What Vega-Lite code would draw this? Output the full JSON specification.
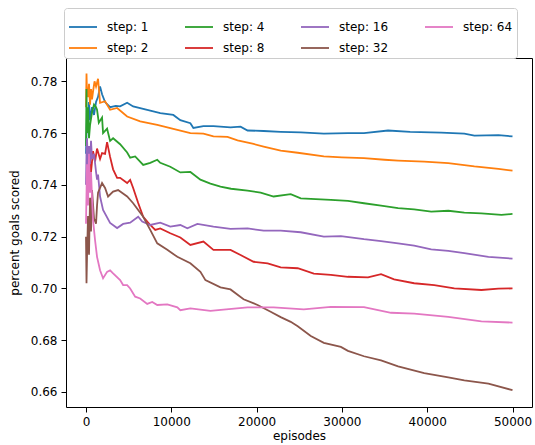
{
 "$schema": "https://vega.github.io/schema/vega-lite/v6.json",
 "width": 466,
 "height": 349,
 "autosize": {"type": "none"},
 "padding": {"left": 66, "top": 58, "right": 3, "bottom": 38},
 "background": "white",
 "config": {
  "font": "DejaVu Sans",
  "view": {"stroke": "black", "strokeWidth": 1},
  "axis": {
   "domain": false, "grid": false, "tickColor": "black", "tickWidth": 1, "tickSize": 5,
   "labelColor": "black", "labelFontSize": 12, "labelPadding": 4, "labelFont": "DejaVu Sans",
   "titleColor": "black", "titleFontSize": 12, "titleFontWeight": "normal", "titleFont": "DejaVu Sans"
  },
  "legend": {"labelFont": "DejaVu Sans"}
 },
 "datasets": {
  "d": [
   {"s":"step: 1","x":0,"y":0.752},{"s":"step: 1","x":118,"y":0.768},{"s":"step: 1","x":235,"y":0.760},{"s":"step: 1","x":353,"y":0.772},{"s":"step: 1","x":471,"y":0.765},{"s":"step: 1","x":706,"y":0.770},{"s":"step: 1","x":941,"y":0.767},{"s":"step: 1","x":1176,"y":0.772},{"s":"step: 1","x":1412,"y":0.774},{"s":"step: 1","x":1647,"y":0.778},{"s":"step: 1","x":1882,"y":0.775},{"s":"step: 1","x":2235,"y":0.772},{"s":"step: 1","x":2824,"y":0.770},{"s":"step: 1","x":3500,"y":0.7705},{"s":"step: 1","x":4000,"y":0.7703},{"s":"step: 1","x":4824,"y":0.7717},{"s":"step: 1","x":5529,"y":0.7703},{"s":"step: 1","x":7176,"y":0.769},{"s":"step: 1","x":8706,"y":0.7677},{"s":"step: 1","x":10235,"y":0.767},{"s":"step: 1","x":11059,"y":0.765},{"s":"step: 1","x":12235,"y":0.7638},{"s":"step: 1","x":12588,"y":0.762},{"s":"step: 1","x":13765,"y":0.7627},{"s":"step: 1","x":14941,"y":0.7627},{"s":"step: 1","x":16941,"y":0.7622},{"s":"step: 1","x":18118,"y":0.7625},{"s":"step: 1","x":18941,"y":0.761},{"s":"step: 1","x":20824,"y":0.7608},{"s":"step: 1","x":22824,"y":0.7605},{"s":"step: 1","x":25176,"y":0.7603},{"s":"step: 1","x":27882,"y":0.7598},{"s":"step: 1","x":30706,"y":0.7600},{"s":"step: 1","x":32588,"y":0.7600},{"s":"step: 1","x":35412,"y":0.7610},{"s":"step: 1","x":38000,"y":0.7605},{"s":"step: 1","x":41647,"y":0.7602},{"s":"step: 1","x":44353,"y":0.7598},{"s":"step: 1","x":45529,"y":0.7590},{"s":"step: 1","x":48353,"y":0.7592},{"s":"step: 1","x":50000,"y":0.7587},

   {"s":"step: 2","x":0,"y":0.770},{"s":"step: 2","x":59,"y":0.783},{"s":"step: 2","x":118,"y":0.775},{"s":"step: 2","x":235,"y":0.774},{"s":"step: 2","x":353,"y":0.779},{"s":"step: 2","x":471,"y":0.771},{"s":"step: 2","x":588,"y":0.777},{"s":"step: 2","x":706,"y":0.773},{"s":"step: 2","x":824,"y":0.776},{"s":"step: 2","x":1000,"y":0.780},{"s":"step: 2","x":1176,"y":0.778},{"s":"step: 2","x":1412,"y":0.781},{"s":"step: 2","x":1647,"y":0.7717},{"s":"step: 2","x":2235,"y":0.7723},{"s":"step: 2","x":2824,"y":0.769},{"s":"step: 2","x":3647,"y":0.7697},{"s":"step: 2","x":4824,"y":0.7664},{"s":"step: 2","x":6353,"y":0.7645},{"s":"step: 2","x":8353,"y":0.7632},{"s":"step: 2","x":9882,"y":0.7619},{"s":"step: 2","x":12235,"y":0.7600},{"s":"step: 2","x":13765,"y":0.7598},{"s":"step: 2","x":14941,"y":0.7587},{"s":"step: 2","x":16588,"y":0.7585},{"s":"step: 2","x":17765,"y":0.7572},{"s":"step: 2","x":19647,"y":0.7558},{"s":"step: 2","x":20824,"y":0.7548},{"s":"step: 2","x":22824,"y":0.7532},{"s":"step: 2","x":24824,"y":0.7524},{"s":"step: 2","x":27882,"y":0.7510},{"s":"step: 2","x":30000,"y":0.7506},{"s":"step: 2","x":32588,"y":0.7503},{"s":"step: 2","x":35000,"y":0.7497},{"s":"step: 2","x":36588,"y":0.7494},{"s":"step: 2","x":39647,"y":0.7490},{"s":"step: 2","x":42471,"y":0.7484},{"s":"step: 2","x":45529,"y":0.7471},{"s":"step: 2","x":48353,"y":0.7462},{"s":"step: 2","x":50000,"y":0.7455},

   {"s":"step: 4","x":0,"y":0.755},{"s":"step: 4","x":59,"y":0.777},{"s":"step: 4","x":118,"y":0.760},{"s":"step: 4","x":235,"y":0.770},{"s":"step: 4","x":353,"y":0.758},{"s":"step: 4","x":471,"y":0.763},{"s":"step: 4","x":706,"y":0.768},{"s":"step: 4","x":941,"y":0.771},{"s":"step: 4","x":1176,"y":0.770},{"s":"step: 4","x":1294,"y":0.769},{"s":"step: 4","x":1500,"y":0.764},{"s":"step: 4","x":1882,"y":0.766},{"s":"step: 4","x":2000,"y":0.760},{"s":"step: 4","x":2471,"y":0.7617},{"s":"step: 4","x":2824,"y":0.757},{"s":"step: 4","x":3176,"y":0.758},{"s":"step: 4","x":4000,"y":0.7557},{"s":"step: 4","x":4824,"y":0.7525},{"s":"step: 4","x":5176,"y":0.7505},{"s":"step: 4","x":5765,"y":0.751},{"s":"step: 4","x":6706,"y":0.7477},{"s":"step: 4","x":7529,"y":0.7485},{"s":"step: 4","x":8353,"y":0.7497},{"s":"step: 4","x":8706,"y":0.7485},{"s":"step: 4","x":9882,"y":0.7470},{"s":"step: 4","x":11059,"y":0.7448},{"s":"step: 4","x":12235,"y":0.7450},{"s":"step: 4","x":13412,"y":0.7420},{"s":"step: 4","x":14588,"y":0.7405},{"s":"step: 4","x":15765,"y":0.7393},{"s":"step: 4","x":17000,"y":0.7385},{"s":"step: 4","x":18941,"y":0.7378},{"s":"step: 4","x":20471,"y":0.7370},{"s":"step: 4","x":22000,"y":0.7355},{"s":"step: 4","x":24000,"y":0.7364},{"s":"step: 4","x":25176,"y":0.7348},{"s":"step: 4","x":28706,"y":0.7342},{"s":"step: 4","x":30706,"y":0.7338},{"s":"step: 4","x":32588,"y":0.7329},{"s":"step: 4","x":34588,"y":0.7320},{"s":"step: 4","x":36588,"y":0.7310},{"s":"step: 4","x":38471,"y":0.7305},{"s":"step: 4","x":40471,"y":0.7297},{"s":"step: 4","x":42471,"y":0.7300},{"s":"step: 4","x":44353,"y":0.7293},{"s":"step: 4","x":46353,"y":0.7290},{"s":"step: 4","x":48706,"y":0.7284},{"s":"step: 4","x":50000,"y":0.7288},

   {"s":"step: 8","x":118,"y":0.735},{"s":"step: 8","x":235,"y":0.745},{"s":"step: 8","x":353,"y":0.740},{"s":"step: 8","x":471,"y":0.7495},{"s":"step: 8","x":588,"y":0.745},{"s":"step: 8","x":824,"y":0.753},{"s":"step: 8","x":1059,"y":0.749},{"s":"step: 8","x":1294,"y":0.754},{"s":"step: 8","x":1647,"y":0.750},{"s":"step: 8","x":1882,"y":0.7523},{"s":"step: 8","x":2235,"y":0.752},{"s":"step: 8","x":2471,"y":0.7565},{"s":"step: 8","x":2824,"y":0.7508},{"s":"step: 8","x":3176,"y":0.746},{"s":"step: 8","x":3647,"y":0.7427},{"s":"step: 8","x":4000,"y":0.7427},{"s":"step: 8","x":4824,"y":0.7407},{"s":"step: 8","x":5176,"y":0.7419},{"s":"step: 8","x":5529,"y":0.7388},{"s":"step: 8","x":6118,"y":0.7330},{"s":"step: 8","x":6706,"y":0.7277},{"s":"step: 8","x":7529,"y":0.7245},{"s":"step: 8","x":8118,"y":0.7226},{"s":"step: 8","x":8706,"y":0.7232},{"s":"step: 8","x":9882,"y":0.7213},{"s":"step: 8","x":11059,"y":0.7197},{"s":"step: 8","x":12235,"y":0.7168},{"s":"step: 8","x":13765,"y":0.7181},{"s":"step: 8","x":14941,"y":0.7149},{"s":"step: 8","x":16941,"y":0.7149},{"s":"step: 8","x":18118,"y":0.7129},{"s":"step: 8","x":19647,"y":0.7103},{"s":"step: 8","x":21294,"y":0.7097},{"s":"step: 8","x":22824,"y":0.7081},{"s":"step: 8","x":24824,"y":0.7078},{"s":"step: 8","x":26706,"y":0.7057},{"s":"step: 8","x":28706,"y":0.7052},{"s":"step: 8","x":30706,"y":0.7045},{"s":"step: 8","x":33059,"y":0.7043},{"s":"step: 8","x":34588,"y":0.7055},{"s":"step: 8","x":36118,"y":0.7035},{"s":"step: 8","x":38471,"y":0.7020},{"s":"step: 8","x":40824,"y":0.7013},{"s":"step: 8","x":43176,"y":0.7000},{"s":"step: 8","x":46353,"y":0.6994},{"s":"step: 8","x":48353,"y":0.6999},{"s":"step: 8","x":50000,"y":0.7000},

   {"s":"step: 16","x":0,"y":0.740},{"s":"step: 16","x":59,"y":0.752},{"s":"step: 16","x":118,"y":0.758},{"s":"step: 16","x":235,"y":0.746},{"s":"step: 16","x":353,"y":0.755},{"s":"step: 16","x":471,"y":0.748},{"s":"step: 16","x":588,"y":0.757},{"s":"step: 16","x":706,"y":0.750},{"s":"step: 16","x":941,"y":0.752},{"s":"step: 16","x":1176,"y":0.745},{"s":"step: 16","x":1294,"y":0.742},{"s":"step: 16","x":1412,"y":0.744},{"s":"step: 16","x":1647,"y":0.7355},{"s":"step: 16","x":2000,"y":0.7303},{"s":"step: 16","x":2824,"y":0.7253},{"s":"step: 16","x":3647,"y":0.7233},{"s":"step: 16","x":4353,"y":0.7249},{"s":"step: 16","x":5176,"y":0.7254},{"s":"step: 16","x":6118,"y":0.7277},{"s":"step: 16","x":6588,"y":0.7258},{"s":"step: 16","x":7529,"y":0.7245},{"s":"step: 16","x":8706,"y":0.7254},{"s":"step: 16","x":9882,"y":0.7239},{"s":"step: 16","x":11059,"y":0.7245},{"s":"step: 16","x":11882,"y":0.7232},{"s":"step: 16","x":13059,"y":0.7249},{"s":"step: 16","x":14941,"y":0.7239},{"s":"step: 16","x":16941,"y":0.7230},{"s":"step: 16","x":18941,"y":0.7232},{"s":"step: 16","x":20824,"y":0.7223},{"s":"step: 16","x":22824,"y":0.7223},{"s":"step: 16","x":25176,"y":0.7217},{"s":"step: 16","x":27882,"y":0.7200},{"s":"step: 16","x":29882,"y":0.7202},{"s":"step: 16","x":32588,"y":0.7190},{"s":"step: 16","x":34588,"y":0.7183},{"s":"step: 16","x":36588,"y":0.7174},{"s":"step: 16","x":38471,"y":0.7165},{"s":"step: 16","x":40471,"y":0.7151},{"s":"step: 16","x":42471,"y":0.7145},{"s":"step: 16","x":44353,"y":0.7136},{"s":"step: 16","x":47176,"y":0.7122},{"s":"step: 16","x":50000,"y":0.7115},

   {"s":"step: 32","x":0,"y":0.720},{"s":"step: 32","x":59,"y":0.702},{"s":"step: 32","x":118,"y":0.712},{"s":"step: 32","x":235,"y":0.728},{"s":"step: 32","x":353,"y":0.713},{"s":"step: 32","x":471,"y":0.735},{"s":"step: 32","x":588,"y":0.722},{"s":"step: 32","x":706,"y":0.738},{"s":"step: 32","x":941,"y":0.727},{"s":"step: 32","x":1176,"y":0.725},{"s":"step: 32","x":1294,"y":0.732},{"s":"step: 32","x":1412,"y":0.737},{"s":"step: 32","x":1882,"y":0.7407},{"s":"step: 32","x":2235,"y":0.7388},{"s":"step: 32","x":2588,"y":0.7355},{"s":"step: 32","x":3176,"y":0.7374},{"s":"step: 32","x":3765,"y":0.7380},{"s":"step: 32","x":4824,"y":0.7355},{"s":"step: 32","x":5529,"y":0.7329},{"s":"step: 32","x":6118,"y":0.7303},{"s":"step: 32","x":6706,"y":0.7277},{"s":"step: 32","x":7529,"y":0.7226},{"s":"step: 32","x":8353,"y":0.7174},{"s":"step: 32","x":9529,"y":0.7149},{"s":"step: 32","x":10706,"y":0.7122},{"s":"step: 32","x":12235,"y":0.7097},{"s":"step: 32","x":13412,"y":0.7064},{"s":"step: 32","x":14000,"y":0.7032},{"s":"step: 32","x":15765,"y":0.7004},{"s":"step: 32","x":16941,"y":0.6996},{"s":"step: 32","x":18471,"y":0.6958},{"s":"step: 32","x":20118,"y":0.6936},{"s":"step: 32","x":21647,"y":0.6910},{"s":"step: 32","x":22824,"y":0.6889},{"s":"step: 32","x":24000,"y":0.6871},{"s":"step: 32","x":24824,"y":0.6854},{"s":"step: 32","x":26353,"y":0.6816},{"s":"step: 32","x":27882,"y":0.6790},{"s":"step: 32","x":29882,"y":0.6774},{"s":"step: 32","x":30706,"y":0.6759},{"s":"step: 32","x":32588,"y":0.6738},{"s":"step: 32","x":34588,"y":0.6722},{"s":"step: 32","x":36588,"y":0.6699},{"s":"step: 32","x":39647,"y":0.6673},{"s":"step: 32","x":42471,"y":0.6656},{"s":"step: 32","x":44353,"y":0.6645},{"s":"step: 32","x":47176,"y":0.6632},{"s":"step: 32","x":50000,"y":0.6607},

   {"s":"step: 64","x":0,"y":0.725},{"s":"step: 64","x":118,"y":0.748},{"s":"step: 64","x":235,"y":0.732},{"s":"step: 64","x":353,"y":0.752},{"s":"step: 64","x":471,"y":0.737},{"s":"step: 64","x":588,"y":0.745},{"s":"step: 64","x":706,"y":0.735},{"s":"step: 64","x":824,"y":0.7264},{"s":"step: 64","x":1059,"y":0.7187},{"s":"step: 64","x":1294,"y":0.7122},{"s":"step: 64","x":1647,"y":0.7070},{"s":"step: 64","x":2000,"y":0.7039},{"s":"step: 64","x":2471,"y":0.7064},{"s":"step: 64","x":2824,"y":0.7070},{"s":"step: 64","x":3176,"y":0.7058},{"s":"step: 64","x":4000,"y":0.7032},{"s":"step: 64","x":4353,"y":0.7013},{"s":"step: 64","x":4824,"y":0.7013},{"s":"step: 64","x":5176,"y":0.7000},{"s":"step: 64","x":5765,"y":0.6968},{"s":"step: 64","x":6353,"y":0.6961},{"s":"step: 64","x":7176,"y":0.6940},{"s":"step: 64","x":7765,"y":0.6948},{"s":"step: 64","x":8353,"y":0.6936},{"s":"step: 64","x":9529,"y":0.6938},{"s":"step: 64","x":10706,"y":0.6927},{"s":"step: 64","x":11059,"y":0.6916},{"s":"step: 64","x":12235,"y":0.6923},{"s":"step: 64","x":14588,"y":0.6913},{"s":"step: 64","x":16118,"y":0.6918},{"s":"step: 64","x":18941,"y":0.6927},{"s":"step: 64","x":22000,"y":0.6927},{"s":"step: 64","x":25529,"y":0.6919},{"s":"step: 64","x":28706,"y":0.6929},{"s":"step: 64","x":32588,"y":0.6928},{"s":"step: 64","x":35765,"y":0.6906},{"s":"step: 64","x":38471,"y":0.6903},{"s":"step: 64","x":42471,"y":0.6890},{"s":"step: 64","x":46353,"y":0.6873},{"s":"step: 64","x":50000,"y":0.6868}
  ]
 },
 "data": {"name": "d"},
 "mark": {"type": "line", "strokeWidth": 1.8, "clip": true},
 "encoding": {
  "x": {
   "field": "x", "type": "quantitative",
   "scale": {"domain": [-2345, 52286], "nice": false, "zero": false},
   "axis": {"title": "episodes", "values": [0, 10000, 20000, 30000, 40000, 50000], "format": "d", "titlePadding": 3}
  },
  "y": {
   "field": "y", "type": "quantitative",
   "scale": {"domain": [0.6542, 0.789], "nice": false, "zero": false},
   "axis": {"title": "percent goals scored", "values": [0.66, 0.68, 0.70, 0.72, 0.74, 0.76, 0.78], "format": ".2f", "titlePadding": 9}
  },
  "color": {
   "field": "s", "type": "nominal",
   "scale": {
    "domain": ["step: 1", "step: 4", "step: 16", "step: 64", "step: 2", "step: 8", "step: 32"],
    "range": ["#1f77b4", "#2ca02c", "#9467bd", "#e377c2", "#ff7f0e", "#d62728", "#8c564b"]
   },
   "legend": {
    "title": null, "orient": "none", "legendX": -2, "legendY": -50,
    "direction": "horizontal", "columns": 4, "columnPadding": 32, "rowPadding": 0,
    "symbolType": "stroke", "symbolSize": 784, "symbolStrokeWidth": 1.8,
    "labelFontSize": 12, "labelColor": "black", "labelOffset": 9,
    "fillColor": "white", "strokeColor": "#cccccc", "cornerRadius": 3, "padding": 4
   }
  }
 }
}
